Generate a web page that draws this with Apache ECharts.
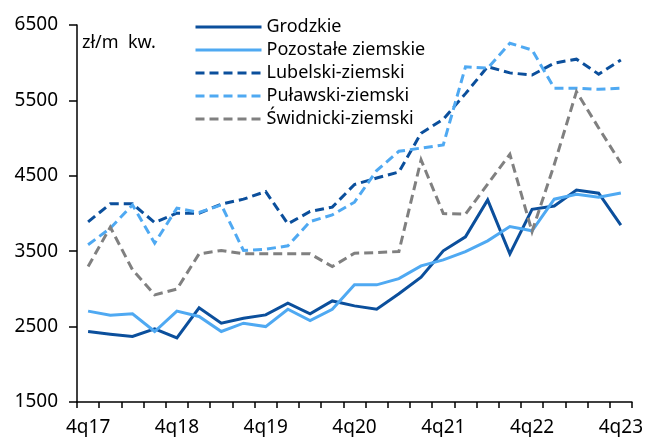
<!DOCTYPE html>
<html>
<head>
<meta charset="utf-8">
<script src="https://cdn.jsdelivr.net/npm/echarts@6/dist/echarts.min.js"></script>
<style>
  html, body { margin: 0; padding: 0; background: #fff; }
  #chart { width: 646px; height: 437px; }
</style>
</head>
<body>
<div id="chart"></div>
<script>
// Quarters 4q17 .. 4q23
const quarters = [
  '4q17','1q18','2q18','3q18','4q18','1q19','2q19','3q19','4q19',
  '1q20','2q20','3q20','4q20','1q21','2q21','3q21','4q21',
  '1q22','2q22','3q22','4q22','1q23','2q23','3q23','4q23'
];

// Average price, PLN per square metre
const grodzkie = [2435, 2400, 2370, 2470, 2350, 2750, 2545, 2610, 2655, 2810, 2670, 2840, 2775, 2730, 2935, 3155, 3505, 3690, 4180, 3465, 4055, 4100, 4310, 4270, 3845];
const pozostaleZiemskie = [2705, 2650, 2670, 2435, 2705, 2635, 2435, 2545, 2500, 2730, 2580, 2730, 3054, 3054, 3137, 3306, 3385, 3495, 3637, 3827, 3770, 4190, 4256, 4216, 4273];
const lubelskiZiemski = [3890, 4128, 4128, 3880, 4004, 4004, 4124, 4190, 4291, 3862, 4026, 4084, 4385, 4470, 4550, 5065, 5250, 5590, 5947, 5865, 5837, 5995, 6047, 5848, 6036];
const pulawskiZiemski = [3586, 3805, 4114, 3606, 4071, 4013, 4114, 3509, 3527, 3571, 3893, 3982, 4150, 4570, 4825, 4868, 4910, 5945, 5928, 6258, 6169, 5662, 5662, 5648, 5662];
const swidnickiZiemski = [3297, 3819, 3253, 2921, 2997, 3465, 3509, 3465, 3465, 3465, 3465, 3297, 3474, 3482, 3495, 4711, 4000, 3990, 4390, 4785, 3760, 4650, 5616, 5135, 4667];

const yTicks = [1500, 2500, 3500, 4500, 5500, 6500];

const DARK = '#0B4F9C';
const LIGHT = '#4FA9F2';
const GREY = '#808080';
const FONT = '"Noto Sans", "Open Sans", sans-serif';

function lineSeries(name, data, color, dashed) {
  return {
    name: name,
    type: 'line',
    data: data,
    symbol: 'none',
    smooth: false,
    lineStyle: {
      color: color,
      width: 3,
      type: dashed ? [9, 5] : 'solid',
      cap: 'butt',
      join: 'miter'
    },
    itemStyle: { color: color },
    emphasis: { disabled: true }
  };
}

const chart = echarts.init(document.getElementById('chart'), null, { renderer: 'canvas' });

chart.setOption({
  animation: false,
  backgroundColor: '#ffffff',
  textStyle: { fontFamily: FONT },
  grid: { left: 77, right: 14, top: 25, bottom: 34, containLabel: false },
  legend: {
    orient: 'vertical',
    left: 189,
    top: 13,
    itemWidth: 66,
    itemHeight: 10,
    itemGap: 5,
    itemStyle: { opacity: 0 },
    lineStyle: { width: 3 },
    textStyle: { fontFamily: FONT, fontSize: 18, color: '#000' },
    data: ['Grodzkie', 'Pozostałe ziemskie', 'Lubelski-ziemski', 'Puławski-ziemski', 'Świdnicki-ziemski']
  },
  graphic: [{
    type: 'text',
    left: 82,
    top: 34,
    style: { text: 'zł/m  kw.', fontFamily: FONT, fontSize: 18, fill: '#000' }
  }],
  xAxis: {
    type: 'category',
    data: quarters,
    boundaryGap: true,
    axisLine: { lineStyle: { color: '#000', width: 1.5 } },
    axisTick: { show: true, interval: 0, length: 6, lineStyle: { color: '#000', width: 1.5 } },
    axisLabel: {
      interval: 3,
      margin: 16,
      color: '#000',
      fontFamily: FONT,
      fontSize: 19
    },
    splitLine: { show: false }
  },
  yAxis: {
    type: 'value',
    min: yTicks[0],
    max: yTicks[yTicks.length - 1],
    interval: 1000,
    axisLine: { show: true, lineStyle: { color: '#000', width: 1.5 } },
    axisTick: { show: true, length: 8, lineStyle: { color: '#000', width: 1.5 } },
    axisLabel: {
      color: '#000',
      fontFamily: FONT,
      fontSize: 19,
      margin: 19,
      formatter: function (v) { return String(v); }
    },
    splitLine: { show: false }
  },
  series: [
    lineSeries('Grodzkie', grodzkie, DARK, false),
    lineSeries('Pozostałe ziemskie', pozostaleZiemskie, LIGHT, false),
    lineSeries('Lubelski-ziemski', lubelskiZiemski, DARK, true),
    lineSeries('Puławski-ziemski', pulawskiZiemski, LIGHT, true),
    lineSeries('Świdnicki-ziemski', swidnickiZiemski, GREY, true)
  ]
});
</script>
</body>
</html>
